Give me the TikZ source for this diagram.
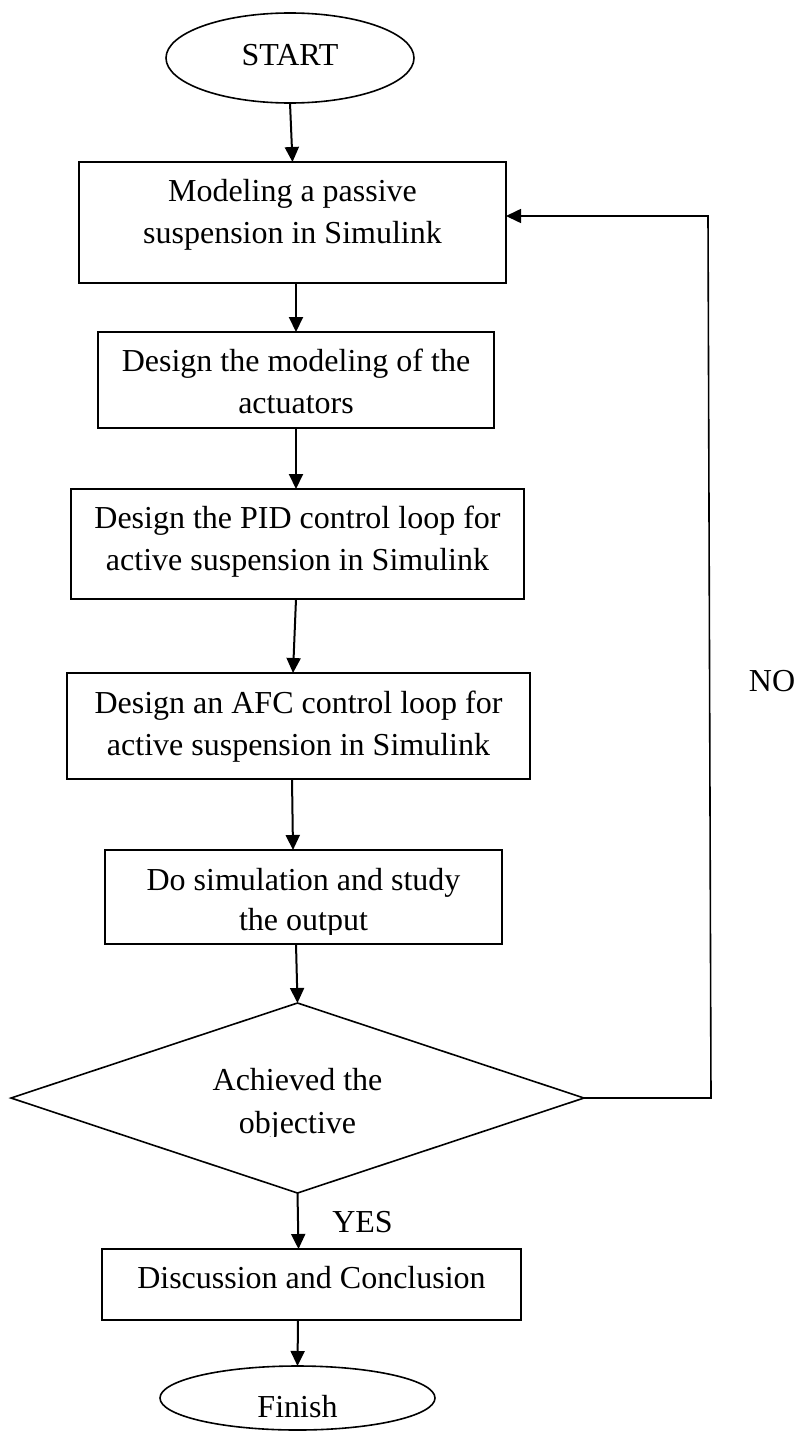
\documentclass[tikz,border=0pt]{standalone}
\usepackage{fontspec}
\setmainfont{Liberation Serif}
\usetikzlibrary{shapes.geometric,arrows.meta}
\begin{document}
\begin{tikzpicture}[x=1pt,y=-1pt,
  shp/.style={draw=black, line width=1.6pt, inner sep=0pt, outer sep=0pt},
  boxnode/.style={shp, rectangle},
  ovalnode/.style={shp, ellipse},
  decnode/.style={shp, diamond},
  txt/.style={anchor=base, inner sep=0pt, font=\fontsize{32}{38}\selectfont},
  arr/.style={line width=2pt, -{Triangle[length=15pt,width=14pt]}},
  loopline/.style={line width=1.6pt, -{Triangle[length=15pt,width=14pt]}},
]
\useasboundingbox (0,0) rectangle (800,1432);

% shapes
\node[ovalnode, minimum width=248pt, minimum height=90pt] (start) at (290,58) {};
\node[boxnode, minimum width=427pt, minimum height=121pt] (b1) at (292.5,222.5) {};
\node[boxnode, minimum width=396pt, minimum height=96pt] (b2) at (296,380) {};
\node[boxnode, minimum width=453pt, minimum height=110pt] (b3) at (297.5,544) {};
\node[boxnode, minimum width=463pt, minimum height=106pt] (b4) at (298.5,726) {};
\node[boxnode, minimum width=397pt, minimum height=94pt] (b5) at (303.5,897) {};
\node[decnode, minimum width=573pt, minimum height=190pt] (d) at (297.5,1098) {};
\node[boxnode, minimum width=419pt, minimum height=71pt] (b6) at (311.5,1284.5) {};
\node[ovalnode, minimum width=275pt, minimum height=64pt] (fin) at (297.5,1398) {};

% texts
\node[txt] (tstart) at (290,65) {START};
\node[txt] (t1a) at (292.5,201) {Modeling a passive};
\node[txt] (t1b) at (292.5,243) {suspension in Simulink};
\node[txt] (t2a) at (296,371) {Design the modeling of the};
\node[txt] (t2b) at (296,413) {actuators};
\node[txt] (t3a) at (297.5,528) {Design the PID control loop for};
\node[txt] (t3b) at (297.5,570) {active suspension in Simulink};
\node[txt] (t4a) at (298.5,713) {Design an AFC control loop for};
\node[txt] (t4b) at (298.5,755) {active suspension in Simulink};
\node[txt] (t5a) at (303.5,890) {Do simulation and study};
\begin{scope}
  \clip (110,900) rectangle (500,934);
  \node[txt] (t5b) at (303.5,930) {the output};
\end{scope}
\node[txt] (tda) at (297.5,1090) {Achieved the};
\begin{scope}
  \clip (150,1100) rectangle (450,1136);
  \node[txt] (tdb) at (297.5,1133) {objective};
\end{scope}
\node[txt] (t6) at (311.5,1288) {Discussion and Conclusion};
\node[txt] (tfin) at (297.5,1417) {Finish};
\node[txt] (tyes) at (362.5,1232) {YES};
\node[txt] (tno) at (772,691) {NO};

% connectors
\draw[arr] (start.south) -- (b1.north);
\draw[arr] (b1.south -| b2.north) -- (b2.north);
\draw[arr] ([xshift=-1.5pt]b3.north |- b2.south) -- ([xshift=-1.5pt]b3.north);
\draw[arr] ([xshift=-1.5pt]b3.south) -- ([xshift=-5.5pt]b4.north);
\draw[arr] ([xshift=-6.5pt]b4.south) -- ([xshift=-10.5pt]b5.north);
\draw[arr] ([xshift=-7.5pt]b5.south) -- (d.north);
\draw[arr] (d.south) -- ([xshift=-13pt]b6.north);
\draw[arr] ([xshift=-13.5pt]b6.south) -- (fin.north);

\coordinate (c1) at (711,1098);
\coordinate (c2) at (708,216);
\draw[loopline] (d.east) -- (c1) -- (c2) -- (b1.east |- c2);
\end{tikzpicture}
\end{document}
